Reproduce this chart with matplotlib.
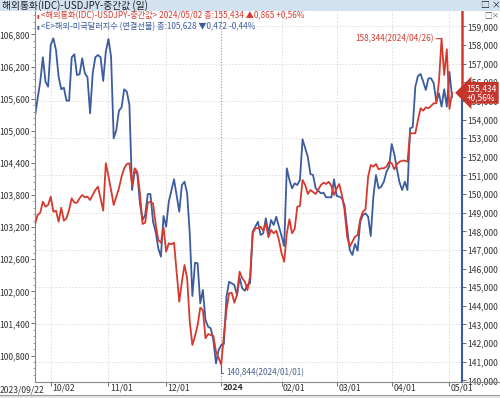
import numpy as np
import matplotlib
matplotlib.use("Agg")
import matplotlib.pyplot as plt
import matplotlib.transforms as mtransforms
from matplotlib.lines import Line2D
from matplotlib.patches import Rectangle

plt.rcParams['font.family'] = ['Noto Sans CJK KR', 'DejaVu Sans']

# x positions are business-day offsets from the first session (2023/09/22)
START = '2023-09-22'

# 해외통화(IDC)-USDJPY-중간값 (right axis)
usdjpy_bday = [0, 1, 2, 3, 4, 5, 6, 7, 8, 9, 10, 11, 12, 13, 14, 15, 16, 17, 18, 19,
               20, 21, 22, 23, 24, 25, 26, 27, 28, 29, 30, 32, 33, 34, 35, 36, 37, 38, 39, 40,
               41, 42, 43, 44, 45, 46, 47, 48, 49, 50, 51, 52, 53, 55, 56, 57, 58, 59, 60, 61,
               62, 63, 64, 65, 66, 67, 68, 69, 70, 71, 72, 73, 74, 75, 76, 77, 78, 79, 80, 81,
               82, 83, 84, 85, 86, 87, 88, 89, 90, 91, 92, 93, 94, 95, 96, 97, 98, 99, 100, 101,
               102, 103, 104, 105, 107, 109, 110, 111, 112, 113, 114, 115, 116, 117, 118, 119, 120, 121, 122, 123,
               124, 125, 126, 127, 128, 129, 130, 131, 132, 133, 134, 135, 136, 137, 138, 139, 140, 141, 142, 143,
               144, 145, 146, 147, 148, 149, 150, 151, 152, 153, 154, 155, 156, 157, 158, 159]
usdjpy = [148.393, 148.876, 149.000, 149.590, 149.322, 149.413, 149.858, 149.053, 149.107, 148.516,
          149.268, 148.570, 148.699, 149.145, 149.772, 149.536, 149.536, 149.772, 149.950, 149.826,
          149.858, 149.681, 149.950, 150.218, 150.395, 149.772, 149.107, 151.651, 150.969, 150.218,
          149.413, 150.309, 150.932, 151.383, 151.614, 151.651, 150.486, 151.383, 151.200, 150.041,
          148.393, 148.463, 149.536, 149.590, 149.504, 148.393, 147.534, 147.389, 148.216, 146.906,
          147.357, 147.303, 147.389, 144.222, 145.295, 146.192, 145.478, 143.148, 141.898, 142.381,
          142.971, 143.900, 143.776, 142.257, 142.488, 142.434, 142.381, 141.538, 141.200, 140.844,
          142.434, 143.776, 144.672, 144.705, 144.168, 144.581, 145.832, 145.478, 145.295, 144.850,
          145.564, 147.894, 148.162, 148.162, 148.248, 148.033, 148.430, 147.679, 148.071, 147.894,
          148.033, 147.534, 146.820, 146.369, 147.894, 148.645, 147.894, 148.125, 149.322, 149.359,
          150.755, 150.486, 150.003, 150.218, 150.003, 150.486, 150.610, 150.540, 150.664, 150.433,
          149.950, 150.309, 150.540, 149.950, 149.145, 147.711, 147.175, 147.443, 147.711, 147.802,
          148.645, 149.053, 149.182, 150.932, 151.560, 151.469, 151.614, 151.329, 151.383, 151.383,
          151.469, 151.737, 151.651, 151.329, 151.614, 151.737, 151.791, 151.791, 151.737, 153.262,
          153.262, 153.262, 153.976, 154.604, 154.475, 154.657, 154.604, 154.727, 154.872, 154.872,
          156.032, 158.344, 156.391, 157.771, 154.569, 155.434]

# <E>해외-미국달러지수 (연결선물) (left axis)
dxy_bday = [0, 1, 2, 3, 4, 5, 6, 7, 8, 9, 10, 11, 12, 13, 14, 15, 16, 17, 18, 19,
            20, 21, 22, 23, 24, 25, 26, 27, 28, 29, 30, 31, 32, 33, 34, 35, 36, 37, 38, 39,
            40, 41, 42, 43, 44, 45, 46, 47, 48, 49, 50, 51, 53, 55, 56, 57, 58, 59, 60, 61,
            62, 63, 64, 65, 66, 67, 68, 69, 70, 71, 72, 73, 74, 75, 76, 77, 78, 79, 80, 81,
            82, 83, 84, 85, 86, 87, 88, 89, 90, 91, 92, 93, 94, 95, 96, 97, 98, 99, 100, 101,
            102, 104, 105, 106, 107, 109, 110, 111, 113, 114, 115, 116, 117, 118, 119, 120, 121, 122, 123, 124,
            125, 126, 127, 128, 129, 130, 131, 132, 133, 134, 135, 136, 137, 138, 139, 140, 141, 142, 143, 144,
            145, 146, 147, 148, 149, 150, 151, 152, 153, 154, 155, 156, 157, 158, 159]
dxy = [105.264, 105.607, 105.918, 106.374, 105.918, 105.824, 106.604, 106.729, 106.510, 106.011,
       105.776, 105.806, 105.563, 105.563, 106.374, 106.430, 106.043, 106.056, 106.355, 106.075,
       106.000, 105.327, 106.075, 106.374, 106.417, 106.374, 105.931, 106.479, 106.716, 106.385,
       104.860, 105.015, 105.376, 105.439, 105.776, 105.731, 105.482, 103.894, 104.236, 104.206,
       103.645, 103.333, 103.427, 103.819, 103.819, 103.301, 103.114, 102.804, 102.647, 103.408,
       103.208, 103.675, 104.094, 103.488, 103.987, 104.049, 103.832, 103.084, 101.913, 102.535,
       102.524, 101.776, 102.025, 101.464, 101.339, 101.309, 101.090, 100.655, 100.903, 100.997,
       101.015, 101.900, 102.180, 102.150, 102.118, 101.931, 102.255, 102.057, 102.012, 102.118,
       102.150, 103.114, 103.208, 103.301, 103.053, 103.084, 103.365, 103.084, 103.333, 103.240,
       103.395, 103.208, 103.034, 102.847, 104.299, 104.081, 103.925, 104.019, 103.987, 104.081,
       104.841, 104.516, 104.193, 104.174, 103.925, 103.832, 103.843, 103.757, 103.757, 104.094,
       103.782, 103.769, 103.739, 103.613, 103.178, 102.772, 102.679, 102.884, 102.759, 103.301,
       103.427, 103.458, 103.395, 103.034, 103.769, 104.174, 103.925, 103.955, 104.049, 104.236,
       104.329, 104.753, 104.561, 104.281, 104.030, 103.894, 104.049, 103.894, 105.047, 105.066,
       105.825, 106.024, 106.062, 105.918, 105.763, 105.981, 105.981, 105.888, 105.544, 105.701,
       105.451, 105.776, 105.451, 106.100, 105.628]

month_dates = ['2023-10-02', '2023-11-01', '2023-12-01', '2024-01-01',
               '2024-02-01', '2024-03-01', '2024-04-01', '2024-05-01']
month_labels = ['10/02', '11/01', '12/01', '2024', '02/01', '03/01', '04/01', '05/01']

RED = '#d63a2e'
BLUE = '#3b5c9e'
W, H = 500, 398

def fx(px):
    return px / W

def fy(py):
    return 1 - py / H

def comma(v):
    return f"{v:.3f}".replace('.', ',')


fig = plt.figure(figsize=(5, 3.98), dpi=100)
fig.patch.set_facecolor('white')

ax = fig.add_axes([fx(35), fy(381.5), fx(461.5) - fx(35), fy(11) - fy(381.5)])
ax2 = ax.twinx()

L_LIM = (100.315, 107.239)
R_LIM = (139.938, 159.827)
X_LIM = (0, 162.6)
ax.set_xlim(*X_LIM)
ax.set_ylim(*L_LIM)
ax2.set_ylim(*R_LIM)


def jpy_on_left(v):
    return L_LIM[0] + (v - R_LIM[0]) * (L_LIM[1] - L_LIM[0]) / (R_LIM[1] - R_LIM[0])


# grid
for v in range(141, 160, 2):
    ax.axhline(jpy_on_left(v), color='#dadada', lw=0.6, ls=(0, (2, 2)), zorder=0)
month_pos = [int(np.busday_count(START, d)) for d in month_dates]
for p, lab in zip(month_pos, month_labels):
    if lab == '2024':
        ax.axvline(p, color='#9a9a9a', lw=0.8, ls=(0, (1, 1.5)), zorder=0)
    else:
        ax.axvline(p, color='#dadada', lw=0.6, ls=(0, (2, 2)), zorder=0)

ax.plot(dxy_bday, dxy, color=BLUE, lw=1.3)
ax2.plot(usdjpy_bday, usdjpy, color=RED, lw=1.3)

# left axis
ax.set_yticks(np.round(np.arange(100.8, 106.81, 0.6), 3))
ax.set_yticklabels([comma(v) for v in np.round(np.arange(100.8, 106.81, 0.6), 3)])
ax.set_yticks(np.round(np.arange(100.44, 107.2, 0.12), 3), minor=True)
ax.tick_params(axis='y', which='major', length=3, width=0.6, color='#555555',
               labelsize=6.1, labelcolor='#333333', pad=0.8)
ax.tick_params(axis='y', which='minor', length=1.5, width=0.5, color='#777777')

# x axis
ax.set_xticks(month_pos)
ax.set_xticklabels(month_labels)
ax.tick_params(axis='x', length=3, width=0.6, color='#555555', labelsize=6.3,
               labelcolor='#333333', pad=-1.8)
shift = mtransforms.ScaledTranslation(1.5 / 100, 0, fig.dpi_scale_trans)
for lab in ax.get_xticklabels():
    lab.set_horizontalalignment('left')
    lab.set_transform(lab.get_transform() + shift)
    if lab.get_text() == '2024':
        lab.set_fontweight('bold')
fig.text(fx(0), fy(389.5), '2023/09/22', fontsize=6.2, color='#333333', ha='left', va='center')

for s in ['top', 'right']:
    ax.spines[s].set_visible(False)
for s in ['left', 'bottom']:
    ax.spines[s].set_color('#8a8a8a')
    ax.spines[s].set_linewidth(0.8)
for s in ax2.spines.values():
    s.set_visible(False)

# right axis
r_ticks = np.arange(140, 160)
ax2.set_yticks(r_ticks)
ax2.set_yticklabels([comma(v) for v in r_ticks])
ax2.tick_params(axis='y', length=3, width=0.6, color='#555555', labelsize=6.2,
                labelcolor='#333333', pad=1)

last = usdjpy[-1]
frac = (last - R_LIM[0]) / (R_LIM[1] - R_LIM[0])
ax2.add_line(Line2D([1, 1], [frac, 1], transform=ax2.transAxes, color=RED, lw=1.8, clip_on=False))
ax2.add_line(Line2D([1, 1], [0, frac], transform=ax2.transAxes, color=BLUE, lw=1.5, clip_on=False))

blend = mtransforms.blended_transform_factory(ax2.transAxes, ax2.transData)
box_shift = mtransforms.ScaledTranslation(5 / 100, 0, fig.dpi_scale_trans)
ax2.text(1.0, last, "155,434\n+0,56%", transform=blend + box_shift, ha='left', va='center',
         color='white', fontsize=6, linespacing=1.0, zorder=10, clip_on=False,
         bbox=dict(boxstyle='larrow,pad=0.22', fc='#c4352b', ec='none'))

# annotations
ax2.annotate('158,344(2024/04/26)', xy=(155, 158.344), xytext=(-8, 0), textcoords='offset pixels',
             ha='right', va='center', color=RED, fontsize=5.9,
             arrowprops=dict(arrowstyle='-', color=RED, lw=0.8, shrinkA=0, shrinkB=0))
ax2.annotate('140,844(2024/01/01)', xy=(71, 140.844), xytext=(5, -8), textcoords='offset pixels',
             ha='left', va='center', color='#4a5f92', fontsize=5.9,
             arrowprops=dict(arrowstyle='-', color='#4a5f92', lw=0.8, shrinkA=0, shrinkB=0,
                             connectionstyle='angle,angleA=0,angleB=90,rad=0'))

# title bar and legend lines
fig.patches.append(Rectangle((0, fy(11)), 1, 11 / H, transform=fig.transFigure,
                             fc='#d3e2f1', ec='none', zorder=0))
fig.text(fx(2), fy(5.5), '해외통화(IDC)-USDJPY-중간값 (일)', fontsize=7, color='#1e1e1e',
         ha='left', va='center')
fig.text(fx(481), fy(5.5), '□ ×', fontsize=6.4, color='#1e1e1e', ha='left', va='center')
fig.text(fx(484), fy(15.5), '□×', fontsize=5.5, color='#555555', ha='left', va='center')

fig.text(fx(37), fy(15.7), '▮', fontsize=3.5, color=RED, ha='left', va='center')
fig.text(fx(41), fy(15.7), '<해외통화(IDC)-USDJPY-중간값> 2024/05/02 종:155,434 ▲0,865 +0,56%',
         fontsize=5.9, color=RED, ha='left', va='center')
fig.text(fx(37), fy(26.7), '▮', fontsize=3.5, color=BLUE, ha='left', va='center')
fig.text(fx(41), fy(26.7), '<E>해외-미국달러지수 (연결선물) 종:105,628 ▼0,472 -0,44%',
         fontsize=5.9, color=BLUE, ha='left', va='center')

# frame edges
fig.add_artist(Line2D([fx(461.5), 1], [fy(381.5), fy(381.5)], transform=fig.transFigure,
                      color='#8a8a8a', lw=0.8))
fig.add_artist(Line2D([0, 1], [fy(395), fy(395)], transform=fig.transFigure, color='#9a9a9a', lw=0.8))
fig.patches.append(Rectangle((0, 0), 1, 3 / H, transform=fig.transFigure, fc='#e6e6e6', ec='none'))

fig.savefig('out.png', dpi=100)
